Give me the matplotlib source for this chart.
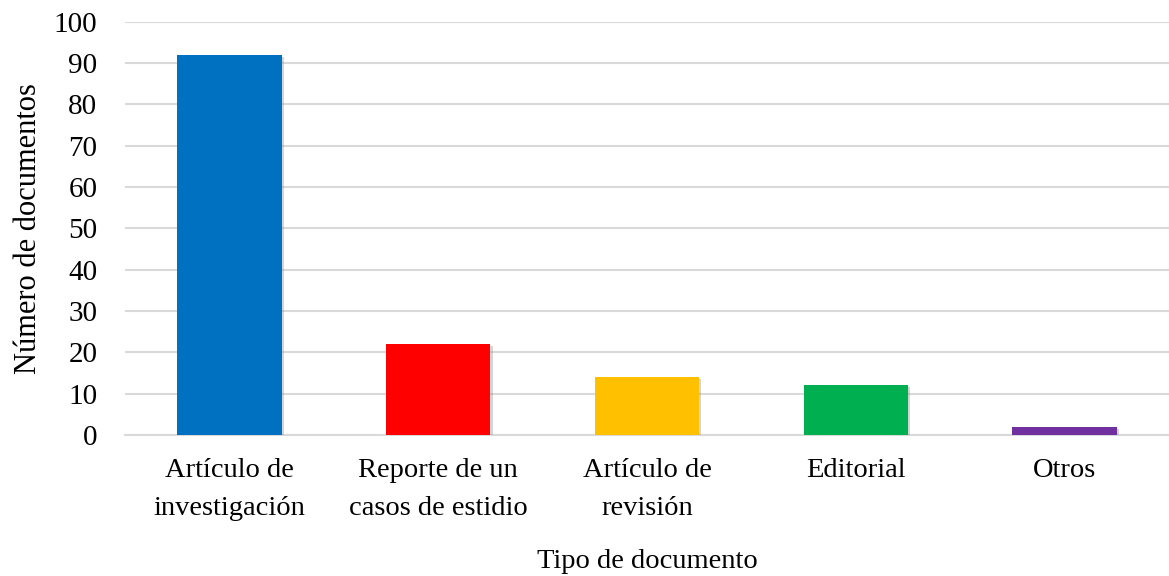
import matplotlib.pyplot as plt
import matplotlib.patheffects as pe
import numpy as np

plt.rcParams['font.family'] = ['Liberation Serif', 'DejaVu Serif']

tipos = ['Artículo de\ninvestigación', 'Reporte de un\ncasos de estidio',
         'Artículo de\nrevisión', 'Editorial', 'Otros']
documentos = [92, 22, 14, 12, 2]
colores = ['#0070C0', '#FF0000', '#FFC000', '#00B050', '#7030A0']

fig = plt.figure(figsize=(11.69, 5.76), dpi=100)
ax = fig.add_axes([0.107, 0.245, 0.893, 0.717])

x = np.arange(len(tipos))
bars = ax.bar(x, documentos, width=0.5, color=colores, zorder=3)
for b in bars:
    b.set_path_effects([pe.SimplePatchShadow(offset=(1.5, -1.5), shadow_rgbFace='#888888', alpha=0.35),
                        pe.Normal()])

ax.set_xlim(-0.5, len(tipos) - 0.5)
ax.set_ylim(0, 100)
ax.set_yticks(np.arange(0, 101, 10))
ax.yaxis.grid(True, color='#d9d9d9', linewidth=1.5, zorder=0)
ax.set_axisbelow(True)

for s in ['top', 'right', 'left']:
    ax.spines[s].set_visible(False)
ax.spines['bottom'].set_color('#d9d9d9')
ax.spines['bottom'].set_linewidth(1.5)

ax.tick_params(axis='y', length=0, pad=20, labelsize=21)
ax.tick_params(axis='x', length=0, pad=17, labelsize=20.5)
ax.set_xticks(x)
ax.set_xticklabels(tipos, linespacing=1.65)

ax.set_xlabel('Tipo de documento', fontsize=20.5, labelpad=20)
ax.set_ylabel('Número de documentos', fontsize=22, labelpad=8)

plt.savefig('out.png', dpi=100)
